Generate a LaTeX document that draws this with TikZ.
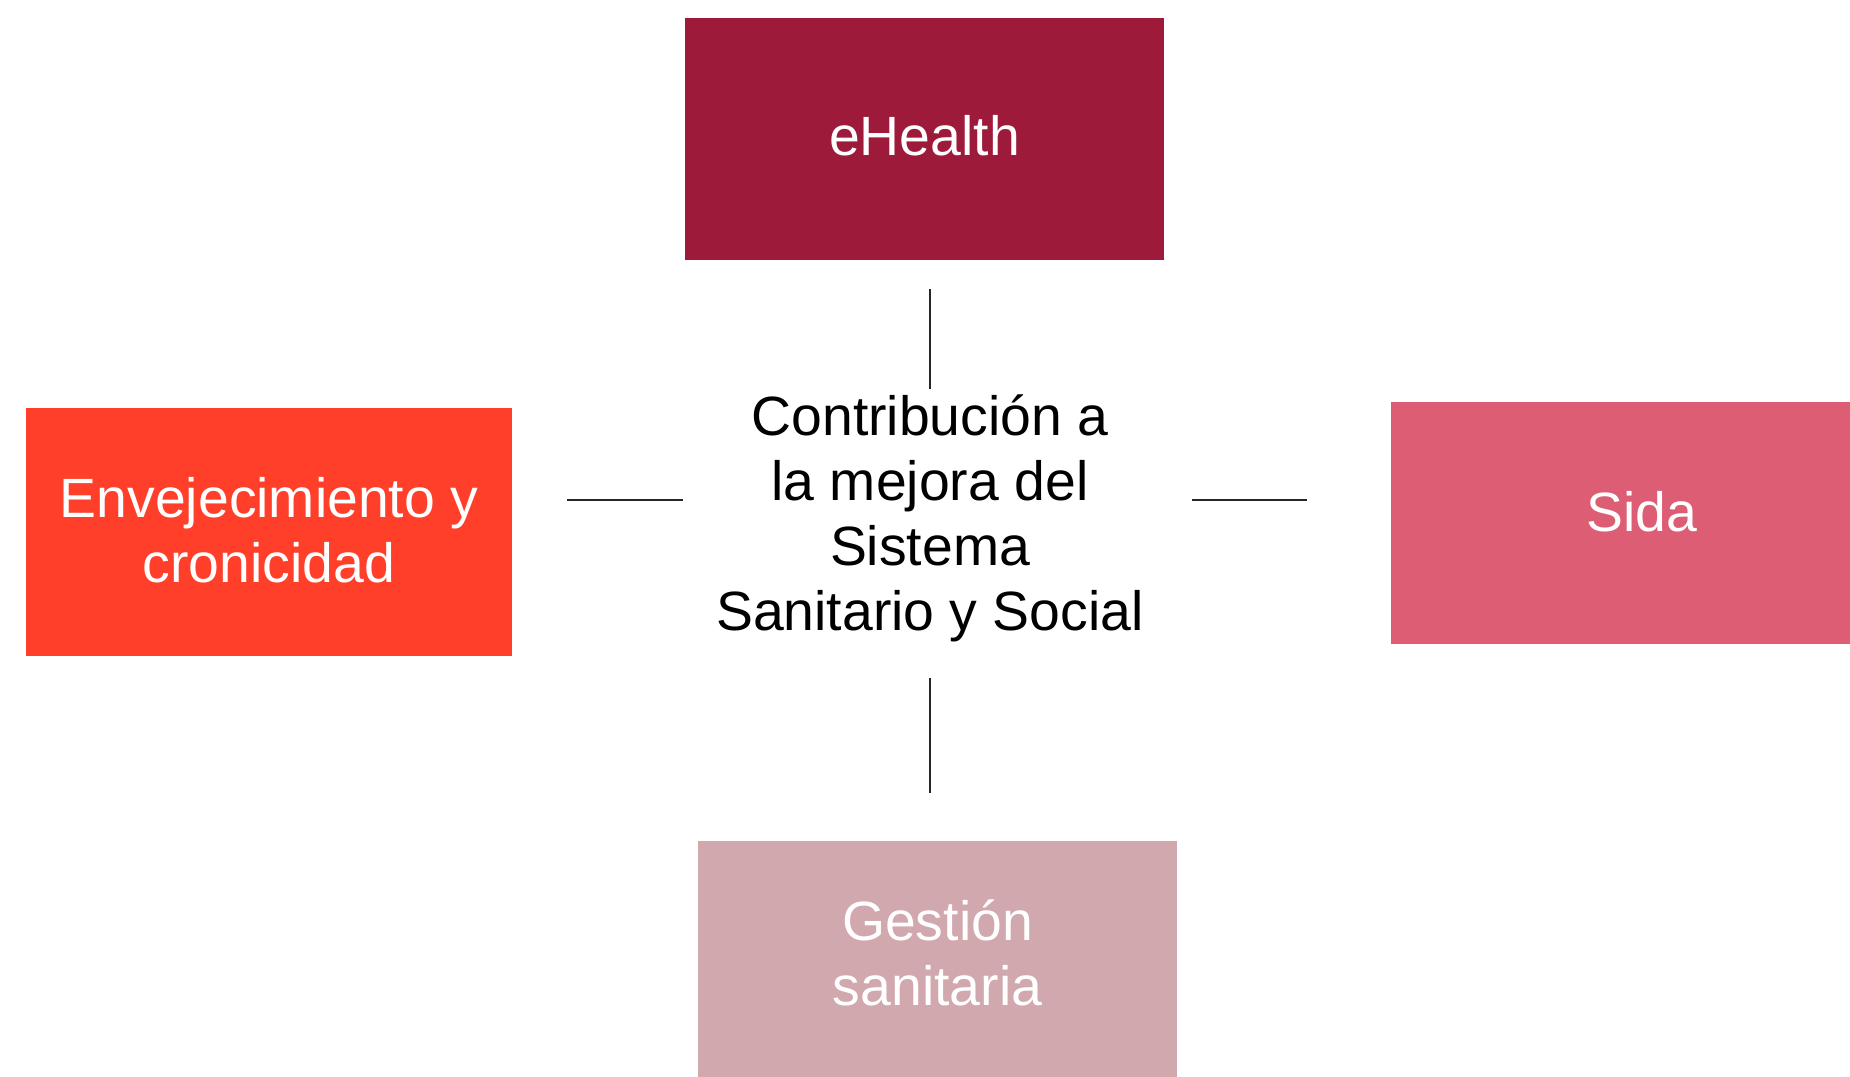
\documentclass[tikz,border=0pt]{standalone}
\usepackage{fontspec}
\setmainfont{Liberation Sans}
\usetikzlibrary{positioning}

\definecolor{granate}{HTML}{9E1A3B}
\definecolor{coral}{HTML}{FF3F2A}
\definecolor{rosa}{HTML}{DC5D74}
\definecolor{malva}{HTML}{D2A8AF}

\begin{document}
\begin{tikzpicture}[x=0.02cm, y=-0.02cm,
    every node/.style={font=\fontsize{31.5}{37}\selectfont, align=center, inner sep=0pt},
    area/.style={minimum width=9.58cm, minimum height=4.84cm, text=white},
    enlace/.style={draw=black!85, line width=0.75pt}]

    \clip (0,0) rectangle (1850,1076);

    \node (centro) [minimum width=9.88cm, minimum height=5.16cm] at (930,518)
        {Contribución a\\la mejora del\\Sistema\\Sanitario y Social};

    \node[area, fill=granate, text depth=0.14cm] (ehealth) at (924.5,139) {eHealth};
    \node[area, fill=coral, minimum width=9.72cm, minimum height=4.96cm, text depth=0.1cm] (envej) at (269,532)
        {Envejecimiento y\\cronicidad};
    \node[area, fill=rosa, minimum width=10.04cm, text depth=0.48cm] (sida) at (1642,523) {Sida};
    \node[area, fill=malva, text depth=0.36cm] (gestion) at (937.5,962) {Gestión\\sanitaria};

    % horizontal connectors sit a little above the centre of the text
    \coordinate (izq) at ([yshift=0.36cm]centro.west);
    \coordinate (der) at ([yshift=0.36cm]centro.east);

    \path[enlace]
    (ehealth.south -| centro) edge [shorten <=0.58cm] (centro.north)
    (centro.south) edge [shorten <=0.62cm, shorten >=0.96cm] (centro.south |- gestion.north)
    (envej.east |- izq) edge [shorten <=1.1cm] (izq)
    (der) edge [shorten <=0.3cm, shorten >=1.68cm] (sida.west |- der)
    ;
\end{tikzpicture}
\end{document}
